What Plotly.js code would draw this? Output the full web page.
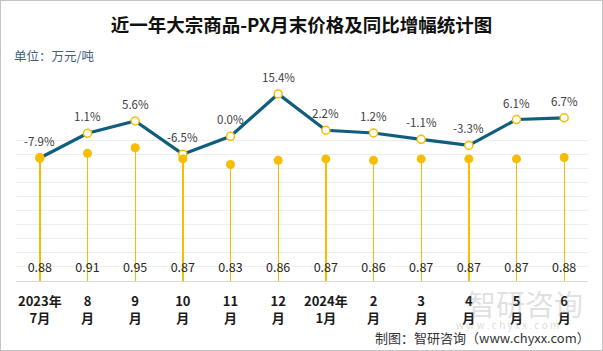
<!DOCTYPE html>
<html><head><meta charset="utf-8">
<script src="https://cdn.plot.ly/plotly-3.0.1.min.js"></script>
<style>html,body{margin:0;padding:0;background:#fff}#c{width:601px;height:349px;border:1px solid #c4c4c4}</style>
</head><body><div id="c"></div><script>
const months = ['2023年<br>7月','8<br>月','9<br>月','10<br>月','11<br>月','12<br>月','2024年<br>1月','2<br>月','3<br>月','4<br>月','5<br>月','6<br>月'];
const prices = [0.88,0.91,0.95,0.87,0.83,0.86,0.87,0.86,0.87,0.87,0.87,0.88];
const growth = [-7.9,1.1,5.6,-6.5,0.0,15.4,2.2,1.2,-1.1,-3.3,6.1,6.7];

const FONT = '"Noto Sans CJK SC", "Microsoft YaHei", sans-serif';
const GOLD = '#f7bd00';
const TEAL = '#0f5e7e';

const W = 601, H = 349, ML = 15, MR = 14, MT = 69, MB = 69;
const PW = W - ML - MR, PH = H - MT - MB;
const px = x => (x - 1 - ML) / PW;            // page px -> paper x
const py = y => (H - MB - (y - 1)) / PH;       // page px -> paper y

const traces = [
  {type:'bar', x:months, y:prices, yaxis:'y2', width:0.028,
   marker:{color:GOLD, line:{width:0}}, hoverinfo:'none', showlegend:false},
  {type:'scatter', mode:'markers', x:months, y:prices, yaxis:'y2',
   marker:{color:GOLD, size:9}, hoverinfo:'none', showlegend:false},
  {type:'scatter', mode:'text', x:months, y:prices.map(()=>0.085), yaxis:'y2',
   text:prices.map(v=>v.toFixed(2)), textfont:{family:FONT, size:12.5, color:'#262626'},
   hoverinfo:'none', showlegend:false, cliponaxis:false},
  {type:'scatter', mode:'lines+markers', x:months, y:growth, yaxis:'y',
   line:{color:TEAL, width:3.2},
   marker:{size:8, color:'#ffffff', line:{color:GOLD, width:1.5}},
   hoverinfo:'none', showlegend:false, cliponaxis:false}
];

const anns = growth.map((g,i)=>({
  x:months[i], y:g, xref:'x', yref:'y', yshift:17, showarrow:false,
  text:g.toFixed(1)+'%', font:{family:FONT, size:11.5, color:'#404040'}
}));
anns.push({xref:'paper', yref:'paper', x:px(12), y:py(55), xanchor:'left', yanchor:'middle',
  showarrow:false, text:'单位：万元/吨', font:{family:FONT, size:12.5, color:'#3f6080'}});
anns.push({xref:'paper', yref:'paper', x:px(525), y:py(303), xanchor:'center', yanchor:'middle',
  showarrow:false, text:'智研咨询', font:{family:FONT, size:29, color:'rgba(150,150,150,0.3)'}});
anns.push({xref:'paper', yref:'paper', x:px(507), y:py(324), xanchor:'center', yanchor:'middle',
  showarrow:false, text:'w w w . c h y x x . c o m', font:{family:FONT, size:10, color:'rgba(150,150,150,0.35)'}});
anns.push({xref:'paper', yref:'paper', x:px(592), y:py(337), xanchor:'right', yanchor:'middle',
  showarrow:false, text:'制图：智研咨询（www.chyxx.com）', font:{family:FONT, size:13, color:'#333333'}});

const layout = {
  width:W, height:H, margin:{l:ML, r:MR, t:MT, b:MB},
  paper_bgcolor:'#ffffff', plot_bgcolor:'#ffffff',
  font:{family:FONT},
  title:{text:'<b>近一年大宗商品-PX月末价格及同比增幅统计图</b>', font:{family:FONT, size:18.5, color:'#111111'},
    xref:'container', x:0.5, xanchor:'center', yref:'container', y:1-25/H, yanchor:'middle'},
  xaxis:{type:'category', range:[-0.5, 11.5], showline:true, linecolor:'#d9d9d9', linewidth:1, ticks:'', showgrid:false,
    ticklabelstandoff:8,
    tickfont:{family:FONT, size:13, color:'#1a1a1a', weight:'bold'}, fixedrange:true},
  yaxis:{range:[-52.6, 24.1], visible:false, showgrid:false, zeroline:false, fixedrange:true},
  yaxis2:{overlaying:'y', side:'right', range:[0, PH/140.3],
    tickvals:[0,0.1,0.2,0.3,0.4,0.5,0.6,0.7,0.8,0.9,1.0], showticklabels:false, ticks:'',
    showgrid:true, gridcolor:'#eeeeee', gridwidth:1, zeroline:false, showline:false, fixedrange:true},
  annotations:anns,
  bargap:0
};
Plotly.newPlot('c', traces, layout, {displayModeBar:false, staticPlot:true});
</script></body></html>
